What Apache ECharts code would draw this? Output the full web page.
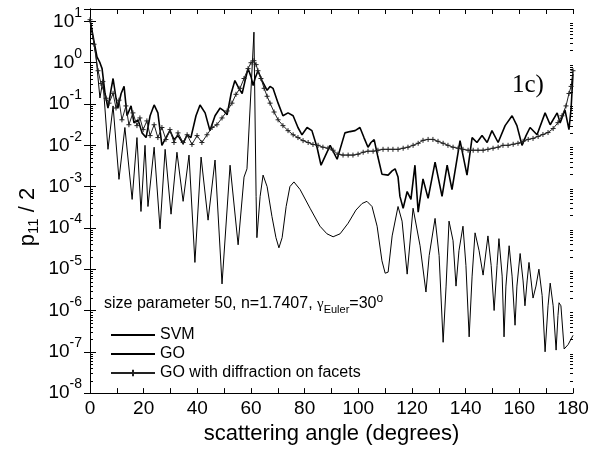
<!DOCTYPE html>
<html><head><meta charset="utf-8">
<script src="https://cdn.jsdelivr.net/npm/echarts@6/dist/echarts.min.js"></script>
<style>html,body{margin:0;padding:0;background:#fff;}#c{width:592px;height:450px;}</style>
</head><body><div id="c"></div>
<script>
// ---------------- data ----------------
const xTickLabels = [0, 20, 40, 60, 80, 100, 120, 140, 160, 180];
const yDecades = [-8, -7, -6, -5, -4, -3, -2, -1, 0, 1];
const minorTickMultipliers = [2, 3, 4, 5, 6, 7, 8, 9];
const seriesNames = ['SVM', 'GO', 'GO with diffraction on facets'];

// [scattering angle (deg), p11/2]
const svmData = [[0,11],[1.5,3.3],[2.6,1.38],[3.7,1.0],[4.5,0.72],[5.6,0.18],[6.7,0.08],[7.8,0.215],[8.6,0.415],[9.7,0.138],[10.4,0.08],[11.6,0.18],[12.7,0.267],[13.8,0.052],[15.3,0.09],[16.4,0.035],[17.9,0.0415],[19.4,0.02],[20.9,0.0154],[22.4,0.052],[23.9,0.095],[25.3,0.061],[26.8,0.01],[28.3,0.0154],[29.8,0.0227],[31.3,0.0138],[32.8,0.0172],[34.7,0.011],[36.2,0.018],[37.6,0.0154],[39.5,0.052],[41.0,0.095],[42.9,0.061],[44.7,0.0227],[46.6,0.052],[48.5,0.08],[49.9,0.068],[51.1,0.055],[52.6,0.18],[54.0,0.37],[55.5,0.24],[56.7,0.18],[57.8,0.37],[58.9,0.72],[60.0,0.46],[60.8,0.28],[61.5,0.415],[62.6,0.64],[64.1,0.37],[66.0,0.215],[67.1,0.267],[68.2,0.24],[70.1,0.105],[71.9,0.052],[73.8,0.061],[75.7,0.052],[77.5,0.027],[79.0,0.018],[80.9,0.027],[82.7,0.0227],[84.6,0.009],[86.1,0.0033],[89.5,0.01],[92.1,0.0046],[95.0,0.020],[96.9,0.0215],[98.8,0.0227],[100.6,0.027],[102.1,0.0154],[103.6,0.009],[104.7,0.0117],[105.9,0.0138],[107.3,0.0052],[108.8,0.0020],[111.1,0.0019],[112.6,0.0024],[113.7,0.0027],[114.8,0.0017],[115.5,5.8e-4],[116.7,3.0e-4],[118.2,7.6e-4],[119.6,4.9e-4],[121.1,0.0033],[122.3,2.4e-4],[124.1,0.00154],[126.0,5.2e-4],[128.6,0.0039],[131.2,5.8e-4],[133.1,0.0033],[134.9,8.5e-4],[137.9,0.013],[140.5,0.0019],[142.4,0.0154],[144.2,0.0117],[146.1,0.0172],[148.0,0.0117],[149.8,0.0227],[152.1,0.0117],[154.7,0.030],[157.3,0.052],[159.1,0.030],[161.0,0.01],[162.5,0.0172],[164.0,0.027],[166.6,0.018],[169.6,0.061],[171.5,0.0315],[174.1,0.061],[175.2,0.035],[177.0,0.072],[178.5,0.024],[179.3,0.08],[180,0.546]];

const goData = [[0,11],[1.1,4.2],[2.2,1.5],[3.7,0.14],[4.8,0.37],[6.7,0.008],[8.6,0.09],[10.8,0.0015],[13.0,0.027],[15.7,4.9e-4],[17.5,0.0154],[19.0,2.5e-4],[20.5,0.01],[21.6,3.3e-4],[23.9,0.009],[26.1,9.5e-5],[28.0,0.008],[30.2,2.15e-4],[32.4,0.0068],[34.7,4.4e-4],[36.9,0.0058],[39.1,1.46e-5],[41.4,0.0052],[44.0,1.54e-4],[46.6,0.0044],[49.2,4.4e-6],[52.2,0.0033],[55.2,3.9e-5],[57.4,0.0017],[58.5,0.0027],[61.1,5.5],[61.9,5.8e-4],[62.2,5.8e-5],[63.4,5.8e-4],[64.5,0.0019],[66.0,0.001],[67.8,1.9e-4],[69.3,5.8e-5],[70.4,3.3e-5],[71.6,5.8e-5],[73.1,3.3e-4],[74.5,1e-3],[76.0,0.0013],[78.3,8.5e-4],[82.0,3.0e-4],[85.7,1.1e-4],[88.3,7.2e-5],[90.6,6.1e-5],[93.2,7.2e-5],[96.2,1.3e-4],[99.1,2.7e-4],[101.4,3.9e-4],[103.2,4.4e-4],[105.1,3.3e-4],[107.0,1.1e-4],[108.8,1.6e-5],[110.0,8.0e-6],[111.1,8.5e-6],[112.6,6.4e-5],[114.8,3.3e-4],[116.3,1.46e-4],[118.2,7.6e-6],[120.4,3.0e-4],[123.0,3.7e-5],[125.2,2.8e-6],[126.4,2.15e-5],[128.6,1.7e-4],[130.1,2.15e-5],[131.6,1.7e-7],[132.7,3.9e-6],[133.8,1.46e-4],[135.3,4.9e-5],[136.4,3.9e-6],[137.5,2.8e-5],[139.0,1.1e-4],[140.1,1.24e-5],[141.3,2.3e-7],[142.4,6.8e-6],[143.5,7.6e-5],[145.0,2.8e-5],[146.5,7.2e-6],[148.3,6.4e-5],[149.5,1.24e-5],[150.6,1e-6],[151.7,1.24e-5],[152.4,5.5e-5],[153.6,6.8e-6],[154.3,2.3e-7],[155.0,3.9e-6],[156.2,3.7e-5],[157.3,6.8e-6],[158.4,4.4e-7],[159.1,3.9e-6],[160.3,2.4e-5],[161.4,5.2e-6],[162.1,1.3e-6],[162.9,5.2e-6],[163.6,1.46e-5],[164.4,5.2e-6],[165.1,2.0e-6],[166.2,3.9e-6],[167.3,1e-5],[168.5,2.3e-6],[169.6,1e-7],[170.7,1.3e-6],[171.5,4.6e-6],[172.6,1.3e-6],[173.7,1.1e-7],[174.4,7.6e-7],[174.8,1.54e-6],[175.5,1.3e-6],[176.7,1.17e-7],[178.2,1.5e-7],[180,2.5e-7]];

const goDiffData = [[0,11],[1.5,2.8],[3.0,0.64],[4.1,0.315],[4.8,0.35],[6.0,0.138],[7.1,0.105],[8.6,0.182],[9.7,0.080],[10.8,0.124],[11.9,0.0415],[13.4,0.090],[14.5,0.0315],[16.0,0.061],[17.5,0.030],[18.6,0.046],[19.8,0.024],[21.2,0.039],[22.4,0.0172],[23.9,0.0315],[25.3,0.0154],[26.8,0.027],[28.3,0.0138],[29.8,0.024],[31.3,0.0117],[32.8,0.020],[34.7,0.0117],[36.2,0.018],[38.0,0.0105],[39.9,0.0172],[41.7,0.0117],[43.6,0.018],[45.5,0.027],[47.3,0.0315],[49.2,0.046],[51.1,0.068],[52.9,0.105],[54.4,0.172],[55.9,0.24],[57.4,0.415],[58.9,0.72],[60.0,1.0],[61.1,1.12],[61.9,0.9],[62.6,0.64],[63.7,0.415],[64.9,0.24],[66.0,0.154],[67.1,0.105],[68.6,0.064],[70.1,0.0415],[71.9,0.030],[73.8,0.0227],[75.7,0.018],[77.5,0.0154],[79.4,0.013],[81.3,0.0117],[83.1,0.0105],[85.0,0.01],[86.8,0.009],[88.7,0.0085],[90.6,0.0076],[92.4,0.0061],[94.3,0.0058],[96.2,0.0058],[98.0,0.0058],[99.9,0.0061],[101.8,0.0068],[103.6,0.0072],[105.5,0.0072],[107.3,0.0076],[109.2,0.008],[111.1,0.008],[112.9,0.008],[114.8,0.008],[116.7,0.0085],[118.5,0.009],[120.4,0.01],[122.3,0.0112],[124.1,0.0132],[126.0,0.0139],[127.8,0.0139],[129.7,0.0125],[131.6,0.0112],[133.4,0.01],[135.3,0.009],[137.2,0.0085],[139.0,0.008],[140.9,0.0076],[142.8,0.0076],[144.6,0.0076],[146.5,0.0076],[148.3,0.008],[150.2,0.0085],[152.1,0.009],[153.9,0.01],[155.8,0.01],[157.7,0.0106],[159.5,0.0112],[161.4,0.0125],[163.3,0.0139],[165.1,0.0147],[167.0,0.0164],[168.8,0.0183],[170.7,0.0204],[172.6,0.0255],[174.4,0.0354],[175.9,0.052],[177.4,0.09],[178.5,0.18],[179.3,0.267],[180,0.64]];

// ---------------- chart ----------------
const FONT = '"Liberation Sans", Arial, sans-serif';
const SERIF = '"Liberation Serif", "Times New Roman", serif';
const minorTickValues = [];
yDecades.slice(0, -1).forEach(function (d) {
  minorTickMultipliers.forEach(function (m) { minorTickValues.push([0, m * Math.pow(10, d)]); });
});

function yLabel(v) {
  const e = Math.log10(v), r = Math.round(e);
  if (Math.abs(e - r) > 1e-6 || yDecades.indexOf(r) < 0) return '';
  return '{b|10}{s|' + r + '}';
}

const chart = echarts.init(document.getElementById('c'), null, { renderer: 'canvas' });
const axisLineStyle = { lineStyle: { color: '#000', width: 1 } };

chart.setOption({
  animation: false,
  backgroundColor: '#fff',
  grid: { left: 90, right: 19, top: 9, bottom: 51, containLabel: false },
  xAxis: [{
    type: 'value', min: 0, max: 180, interval: 10, position: 'bottom',
    axisLine: axisLineStyle,
    axisTick: { inside: true, length: 5, lineStyle: { color: '#000' } },
    splitLine: { show: false },
    axisLabel: {
      color: '#000', fontSize: 19, fontFamily: FONT, margin: 6,
      formatter: function (v) { return xTickLabels.indexOf(v) >= 0 ? String(v) : ''; }
    },
    name: 'scattering angle (degrees)', nameLocation: 'middle', nameGap: 25,
    nameTextStyle: { color: '#000', fontSize: 22, fontFamily: FONT }
  }, {
    type: 'value', min: 0, max: 180, interval: 10, position: 'top',
    axisLine: axisLineStyle,
    axisTick: { inside: true, length: 5, lineStyle: { color: '#000' } },
    axisLabel: { show: false }, splitLine: { show: false }
  }],
  yAxis: [{
    type: 'log', min: 1e-8, max: 20, logBase: 10, position: 'left',
    axisLine: axisLineStyle,
    axisTick: { inside: true, length: 6, lineStyle: { color: '#000' } },
    splitLine: { show: false },
    axisLabel: {
      color: '#000', margin: 8, formatter: yLabel, padding: [0, 0, 6, 0],
      rich: {
        b: { fontSize: 19, fontFamily: FONT, color: '#000', lineHeight: 25, verticalAlign: 'bottom' },
        s: { fontSize: 14, fontFamily: FONT, color: '#000', lineHeight: 14, verticalAlign: 'top' }
      }
    }
  }, {
    type: 'log', min: 1e-8, max: 20, logBase: 10, position: 'right',
    axisLine: axisLineStyle,
    axisTick: { inside: true, length: 6, lineStyle: { color: '#000' } },
    axisLabel: { show: false }, splitLine: { show: false }
  }],
  legend: {
    data: [
      { name: seriesNames[0], itemStyle: { opacity: 0 } },
      { name: seriesNames[1], itemStyle: { opacity: 0 } },
      { name: seriesNames[2] }
    ],
    orient: 'vertical', left: 105, top: 322,
    itemWidth: 44, itemHeight: 8, itemGap: 3, selectedMode: false,
    textStyle: { color: '#000', fontSize: 16, fontFamily: FONT }
  },
  graphic: [
    {
      type: 'text', x: 104, y: 304,
      style: {
        text: 'size parameter 50, n=1.7407, {g|γ}{sub|Euler}=30{sup|o}',
        fontSize: 16, fontFamily: FONT, fill: '#000', align: 'left', verticalAlign: 'middle',
        rich: {
          g: { fontSize: 15, fontFamily: SERIF, fill: '#000', lineHeight: 22, verticalAlign: 'middle' },
          sub: { fontSize: 11, fontFamily: FONT, fill: '#000', lineHeight: 12, verticalAlign: 'bottom' },
          sup: { fontSize: 12, fontFamily: FONT, fill: '#000', lineHeight: 12, verticalAlign: 'top' }
        }
      }
    },
    {
      type: 'text', x: 512, y: 85,
      style: { text: '1c)', fontSize: 25, fontFamily: SERIF, fill: '#000', align: 'left', verticalAlign: 'middle' }
    },
    {
      type: 'text', x: 28, y: 217, rotation: Math.PI / 2,
      style: {
        text: '{m|p}{sub|11}{m| / 2}', align: 'center', verticalAlign: 'middle', fill: '#000',
        rich: {
          m: { fontSize: 22, fontFamily: FONT, fill: '#000', lineHeight: 26, verticalAlign: 'middle' },
          sub: { fontSize: 15, fontFamily: FONT, fill: '#000', lineHeight: 15, verticalAlign: 'bottom' }
        }
      }
    }
  ],
  series: [
    {
      name: 'GO', type: 'line', data: goData, symbol: 'none', z: 2,
      lineStyle: { color: '#000', width: 1 }, itemStyle: { color: '#000' }
    },
    {
      name: 'SVM', type: 'line', data: svmData, symbol: 'none', z: 3,
      lineStyle: { color: '#000', width: 1.6 }, itemStyle: { color: '#000' }
    },
    {
      name: 'GO with diffraction on facets', type: 'line', data: goDiffData, z: 4,
      symbol: 'path://M0,5L10,5M5,0L5,10', symbolSize: 5, showAllSymbol: true,
      lineStyle: { color: '#222', width: 1 },
      itemStyle: { color: '#222', borderColor: '#222', borderWidth: 1 }
    },
    {
      name: 'minorTicks', type: 'custom', silent: true, z: 10, clip: false,
      coordinateSystem: 'cartesian2d', xAxisIndex: 0, yAxisIndex: 0,
      data: minorTickValues, encode: { x: 0, y: 1 },
      renderItem: function (params, api) {
        const v = api.value(1);
        const l = api.coord([0, v]), r = api.coord([180, v]);
        const y = Math.round(l[1]) + 0.5;
        return { type: 'group', children: [
          { type: 'line', shape: { x1: l[0], y1: y, x2: l[0] + 3, y2: y }, style: { stroke: '#000', lineWidth: 1 } },
          { type: 'line', shape: { x1: r[0] - 3, y1: y, x2: r[0], y2: y }, style: { stroke: '#000', lineWidth: 1 } }
        ] };
      }
    }
  ]
});
</script></body></html>
